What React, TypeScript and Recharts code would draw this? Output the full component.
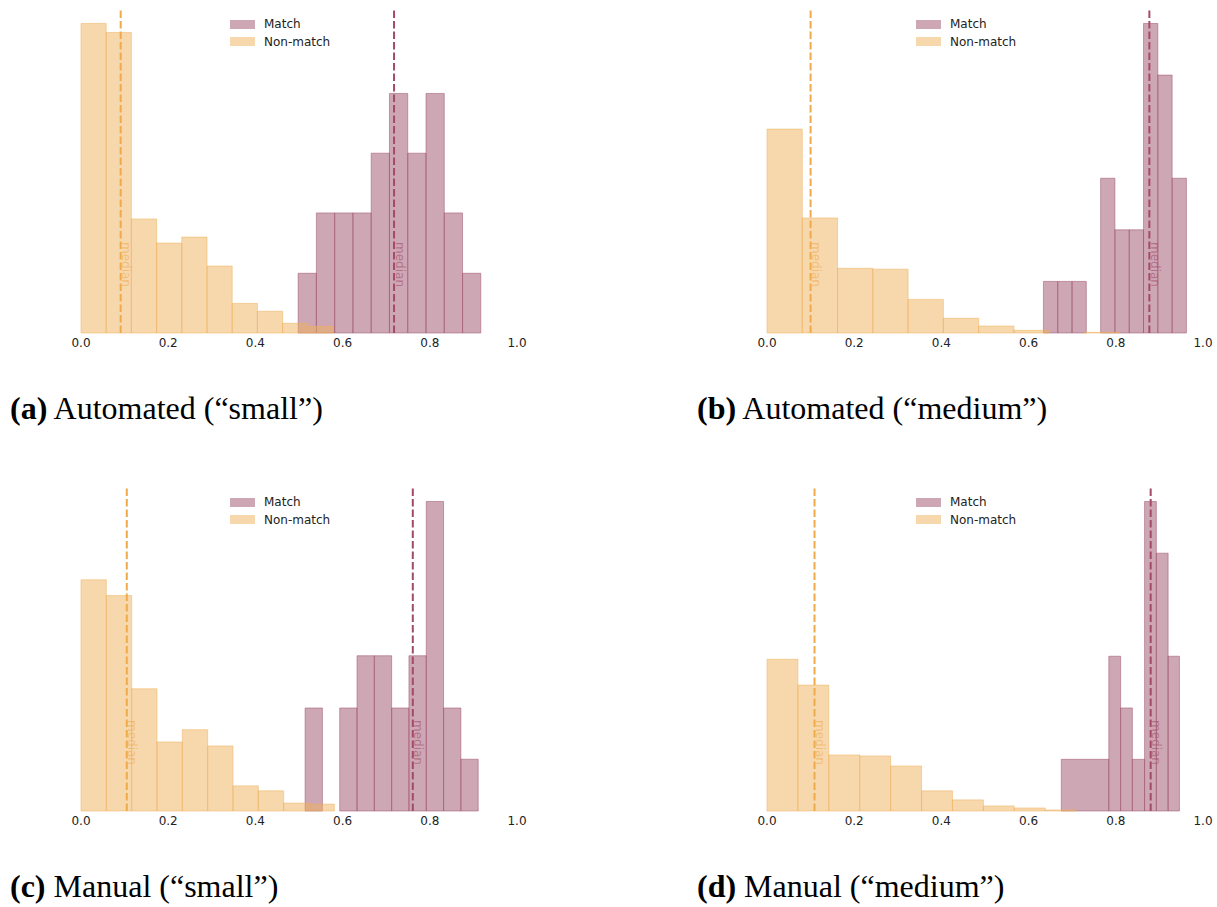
import React from 'react';
import { ComposedChart, XAxis, YAxis, ReferenceArea, ReferenceLine, Legend } from 'recharts';

// x tick values shared by every panel
const TICKS = [0, 0.2, 0.4, 0.6, 0.8, 1.0];

// (a) Automated ("small") - density histograms
const aNonMatchRange = [0, 0.578];
const aNonMatch = [5.13, 4.98, 1.89, 1.49, 1.59, 1.11, 0.49, 0.36, 0.16, 0.11];
const aMatchRange = [0.498, 0.917];
const aMatch = [0.99, 1.99, 1.99, 1.99, 2.98, 3.97, 2.98, 3.97, 1.99, 0.99];
const aMedians = [0.091, 0.718]; // non-match, match

// (b) Automated ("medium")
const bNonMatchRange = [0, 0.809];
const bNonMatch = [4.98, 2.81, 1.58, 1.56, 0.82, 0.36, 0.17, 0.065, 0, 0.016];
const bMatchRange = [0.634, 0.962];
const bMatch = [1.26, 1.26, 1.26, 0, 3.78, 2.52, 2.52, 7.56, 6.3, 3.78];
const bMedians = [0.1, 0.877];

// (c) Manual ("small")
const cNonMatchRange = [0, 0.581];
const cNonMatch = [4.69, 4.37, 2.48, 1.4, 1.65, 1.32, 0.51, 0.41, 0.16, 0.14];
const cMatchRange = [0.514, 0.911];
const cMatch = [2.09, 0, 2.09, 3.15, 3.15, 2.09, 3.15, 6.28, 2.09, 1.05];
const cMedians = [0.105, 0.761];

// (d) Manual ("medium") - first match bin is wider
const dNonMatchRange = [0, 0.709];
const dNonMatch = [4.52, 3.75, 1.67, 1.64, 1.34, 0.6, 0.33, 0.15, 0.09, 0.03];
const dMatchEdges = [0.675, 0.784, 0.811, 0.838, 0.866, 0.893, 0.92, 0.946];
const dMatch = [1.54, 4.61, 3.07, 1.54, 9.22, 7.68, 4.61];
const dMedians = [0.109, 0.88];

const LEGEND_LABELS = ['Match', 'Non-match'];

const MATCH = '#9d4f69';
const NONMATCH = '#efb15b';
const MATCH_LINE = '#a34a6c';
const NONMATCH_LINE = '#f0aa4c';
const FONT = '"DejaVu Sans", sans-serif';

type Bin = { x0: number; x1: number; h: number };

// equal-width bins between lo and hi
const equalBins = (range: number[], heights: number[]): Bin[] => {
  const w = (range[1] - range[0]) / heights.length;
  return heights.map((h, i) => ({ x0: range[0] + i * w, x1: range[0] + (i + 1) * w, h }));
};

const edgeBins = (edges: number[], heights: number[]): Bin[] =>
  heights.map((h, i) => ({ x0: edges[i], x1: edges[i + 1], h }));

const panels = [
  {
    key: 'a', left: 60, top: 0, label: '(a)', title: ' Automated (\u201csmall\u201d)',
    nonMatch: equalBins(aNonMatchRange, aNonMatch), match: equalBins(aMatchRange, aMatch), medians: aMedians,
  },
  {
    key: 'b', left: 746, top: 0, label: '(b)', title: ' Automated (\u201cmedium\u201d)',
    nonMatch: equalBins(bNonMatchRange, bNonMatch), match: equalBins(bMatchRange, bMatch), medians: bMedians,
  },
  {
    key: 'c', left: 60, top: 478, label: '(c)', title: ' Manual (\u201csmall\u201d)',
    nonMatch: equalBins(cNonMatchRange, cNonMatch), match: equalBins(cMatchRange, cMatch), medians: cMedians,
  },
  {
    key: 'd', left: 746, top: 478, label: '(d)', title: ' Manual (\u201cmedium\u201d)',
    nonMatch: equalBins(dNonMatchRange, dNonMatch), match: edgeBins(dMatchEdges, dMatch), medians: dMedians,
  },
];

const MedianLabel = ({ viewBox, color }: any) => {
  if (!viewBox) return null;
  const x = viewBox.x + 1.5;
  const y = viewBox.y + viewBox.height * 0.72;
  return (
    <text x={x} y={y} transform={`rotate(90, ${x}, ${y})`} fill={color} fillOpacity={0.6}
      fontFamily={FONT} fontSize={12}>
      median
    </text>
  );
};

const HistLegend = () => (
  <div style={{ fontFamily: FONT, fontSize: 12, color: '#222' }}>
    {LEGEND_LABELS.map((name, i) => (
      <div key={name} style={{ display: 'flex', alignItems: 'center', height: 17.5 }}>
        <span style={{
          display: 'inline-block', width: 25, height: 9, marginRight: 9,
          backgroundColor: i === 0 ? MATCH : NONMATCH, opacity: 0.5,
        }} />
        <span>{name}</span>
      </div>
    ))}
  </div>
);

const Panel = ({ p }: any) => {
  const yMax = 1.05 * Math.max(...p.match.map((b: Bin) => b.h), ...p.nonMatch.map((b: Bin) => b.h));
  const rows = [...p.match, ...p.nonMatch].map((b: Bin) => ({ x: (b.x0 + b.x1) / 2, h: b.h }));
  return (
    <div style={{ position: 'absolute', left: p.left, top: p.top }}>
      <ComposedChart width={480} height={360} data={rows} margin={{ top: 8, right: 23, bottom: 7, left: 21 }}>
        <XAxis type="number" dataKey="x" domain={[0, 1]} allowDataOverflow ticks={TICKS} interval={0}
          axisLine={false} tickLine={false} tickSize={0} tickMargin={5} height={20}
          tickFormatter={(v: number) => v.toFixed(1)}
          tick={{ fontFamily: FONT, fontSize: 12, fill: '#222' }} />
        <YAxis type="number" dataKey="h" domain={[0, yMax]} allowDataOverflow hide />
        {/* match bars first, non-match drawn over them */}
        {p.match.filter((b: Bin) => b.h > 0).map((b: Bin, i: number) => (
          <ReferenceArea key={'m' + i} x1={b.x0} x2={b.x1} y1={0} y2={b.h} ifOverflow="visible"
            fill={MATCH} fillOpacity={0.5} stroke={MATCH} strokeOpacity={0.5} strokeWidth={1} />
        ))}
        {p.nonMatch.filter((b: Bin) => b.h > 0).map((b: Bin, i: number) => (
          <ReferenceArea key={'n' + i} x1={b.x0} x2={b.x1} y1={0} y2={b.h} ifOverflow="visible"
            fill={NONMATCH} fillOpacity={0.5} stroke={NONMATCH} strokeOpacity={0.5} strokeWidth={1} />
        ))}
        <ReferenceLine x={p.medians[0]} stroke={NONMATCH_LINE} strokeWidth={2} strokeDasharray="7.5 3"
          label={<MedianLabel color={NONMATCH_LINE} />} />
        <ReferenceLine x={p.medians[1]} stroke={MATCH_LINE} strokeWidth={2} strokeDasharray="7.5 3"
          label={<MedianLabel color={MATCH_LINE} />} />
        <Legend content={<HistLegend />} layout="horizontal" verticalAlign="middle" align="center"
          wrapperStyle={{ top: 15.5, left: 170, width: 'auto', height: 'auto' }} />
      </ComposedChart>
      <div style={{
        position: 'absolute', left: p.left === 60 ? -50 : -49, top: 392, whiteSpace: 'nowrap',
        fontFamily: '"Liberation Serif", "Times New Roman", serif', fontSize: 32, lineHeight: 1, color: '#000',
      }}>
        <b>{p.label}</b>{p.title}
      </div>
    </div>
  );
};

export default function App() {
  return (
    <div style={{ position: 'absolute', left: 0, top: 0, width: 1217, height: 907, background: '#fff' }}>
      {panels.map((p) => <Panel key={p.key} p={p} />)}
    </div>
  );
}
